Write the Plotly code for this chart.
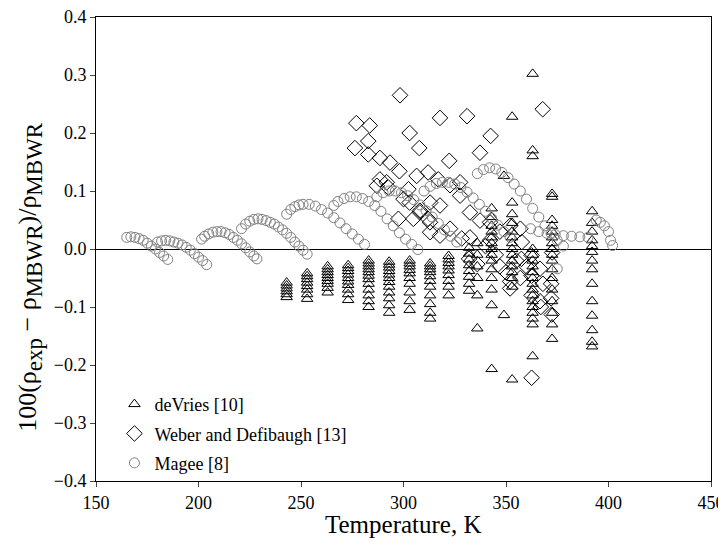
import plotly.graph_objects as go

# ---------------- data ----------------
# deVries [10]
devries_T = (
    [243]*6 + [253]*8 + [263]*9 + [273]*10 + [283]*12 + [293]*12 + [303]*10 + [313]*11 +
    [322]*9 + [332]*8 + [336]*6 + [343]*14 + [349]*2 + [353]*15 + [363]*18 + [372.5]*17 + [392]*14
)
devries_V = (
    [-0.058, -0.063, -0.068, -0.073, -0.078, -0.083] +
    [-0.042, -0.047, -0.052, -0.058, -0.064, -0.070, -0.078, -0.086] +
    [-0.030, -0.035, -0.040, -0.045, -0.050, -0.055, -0.060, -0.067, -0.075] +
    [-0.028, -0.033, -0.038, -0.044, -0.050, -0.056, -0.062, -0.070, -0.078, -0.088] +
    [-0.020, -0.025, -0.030, -0.035, -0.040, -0.046, -0.052, -0.060, -0.070, -0.080, -0.090, -0.100] +
    [-0.022, -0.027, -0.032, -0.038, -0.044, -0.050, -0.057, -0.065, -0.075, -0.085, -0.097, -0.110] +
    [-0.020, -0.025, -0.030, -0.036, -0.042, -0.050, -0.060, -0.075, -0.090, -0.105] +
    [-0.025, -0.030, -0.035, -0.040, -0.047, -0.055, -0.065, -0.080, -0.095, -0.110, -0.120] +
    [-0.012, -0.018, -0.024, -0.030, -0.037, -0.045, -0.055, -0.065, -0.080] +
    [0.002, -0.008, -0.018, -0.028, -0.038, -0.048, -0.060, -0.072] +
    [0.010, -0.010, -0.030, -0.050, -0.080, -0.137] +
    [0.070, 0.055, 0.040, 0.030, 0.020, 0.010, 0.000, -0.010, -0.020, -0.035, -0.050, -0.070, -0.097, -0.207] +
    [0.126, -0.114] +
    [0.228, 0.080, 0.060, 0.045, 0.030, 0.020, 0.010, 0.000, -0.010, -0.020, -0.030, -0.040, -0.050, -0.065, -0.225] +
    [0.302, 0.170, 0.160, 0.000, -0.010, -0.020, -0.030, -0.040, -0.050, -0.060, -0.070, -0.080, -0.090, -0.100, -0.110, -0.120, -0.130, -0.185] +
    [0.095, 0.090, 0.050, 0.040, 0.030, 0.020, 0.010, 0.000, -0.010, -0.020, -0.035, -0.050, -0.070, -0.090, -0.110, -0.130, -0.155] +
    [0.065, 0.045, 0.030, 0.015, 0.005, -0.005, -0.020, -0.035, -0.060, -0.090, -0.115, -0.140, -0.160, -0.168]
)

# Weber and Defibaugh [13]
weber_T = [277, 283.5, 276.3, 282.8, 282.8, 288.5, 293.4, 298, 298.3, 303, 307.7, 317.8,
           288.5, 291.8, 287, 292.6, 302.4, 306.4, 312, 317, 300, 303, 308, 313, 317.8,
           297.5, 304.8, 312, 313, 317.8, 331, 367.9, 342.5, 337.3, 322.3, 327.6, 322.7,
           327.6, 312.9, 308, 332.4, 337.3, 342.2, 322.7, 328.4, 332.4, 342.2, 357.7,
           362.5, 357.5, 366.6, 372.5, 352, 352, 362.5, 366.6, 372.3, 362.5, 362.5,
           336, 332, 347, 352, 357, 347, 340, 345, 350, 355, 360, 368, 372, 372, 367, 357]
weber_V = [0.217, 0.213, 0.174, 0.186, 0.163, 0.157, 0.149, 0.134, 0.265, 0.200, 0.174, 0.226,
           0.120, 0.115, 0.109, 0.106, 0.103, 0.126, 0.132, 0.120, 0.086, 0.080, 0.066, 0.080, 0.075,
           0.052, 0.052, 0.052, 0.029, 0.023, 0.229, 0.241, 0.195, 0.166, 0.152, 0.115, 0.110,
           0.092, 0.046, 0.063, 0.063, 0.049, 0.046, 0.035, 0.018, 0.020, 0.015, 0.012,
           -0.011, -0.017, -0.034, -0.006, -0.056, -0.068, -0.046, -0.090, -0.113, -0.222, -0.080,
           -0.026, -0.017, 0.030, 0.040, 0.035, -0.030, 0.005, -0.010, -0.040, -0.020, -0.030,
           -0.060, -0.060, -0.085, -0.100, -0.050]

# Magee [8]
magee_T = [165, 167, 169, 171, 173, 175, 177, 179, 181, 183, 185,
           180, 182, 184, 186, 188, 190, 192, 194, 196, 198, 200, 202, 204,
           201.5, 203, 205, 207, 209, 211, 213, 215, 217, 219, 221, 223, 225, 227, 228.5,
           221, 223, 225, 227, 229, 231, 233, 235, 237, 239, 241, 243, 245, 247, 249, 251, 253,
           243, 245, 247, 249, 251, 254, 257, 260, 263, 266, 269, 272, 275, 278, 281,
           266, 268, 271, 274, 277, 280, 283, 286, 289, 292, 295, 298, 301, 304, 307,
           287, 290, 293, 296, 299, 302, 305, 308, 311, 314, 317, 320, 323, 326,
           310, 313, 316, 319, 322, 325, 328, 331, 334, 337, 340, 343, 346, 349, 352,
           336, 339, 342, 345, 348, 351, 354, 357, 360, 363, 366, 369, 372, 375, 378,
           362, 366, 370, 374, 378, 382, 386, 390, 375,
           394, 396, 398, 400, 401, 402]
magee_V = [0.020, 0.021, 0.020, 0.018, 0.015, 0.010, 0.005, 0.000, -0.006, -0.012, -0.018,
           0.012, 0.014, 0.015, 0.014, 0.012, 0.010, 0.007, 0.003, -0.002, -0.008, -0.014, -0.020, -0.027,
           0.017, 0.022, 0.026, 0.029, 0.030, 0.030, 0.028, 0.025, 0.020, 0.015, 0.009, 0.002, -0.005, -0.012, -0.017,
           0.035, 0.043, 0.048, 0.051, 0.052, 0.051, 0.049, 0.046, 0.043, 0.038, 0.033, 0.027, 0.020, 0.012, 0.005, -0.002, -0.009,
           0.060, 0.068, 0.073, 0.076, 0.077, 0.077, 0.074, 0.068, 0.062, 0.054, 0.045, 0.035, 0.026, 0.017, 0.008,
           0.075, 0.082, 0.087, 0.090, 0.090, 0.087, 0.082, 0.075, 0.065, 0.052, 0.040, 0.028, 0.017, 0.008, -0.001,
           0.090, 0.097, 0.100, 0.100, 0.097, 0.092, 0.085, 0.076, 0.066, 0.055, 0.044, 0.033, 0.022, 0.012,
           0.100, 0.108, 0.113, 0.115, 0.115, 0.112, 0.106, 0.098, 0.088, 0.077, 0.065, 0.053, 0.041, 0.030, 0.020,
           0.130, 0.137, 0.140, 0.138, 0.132, 0.123, 0.112, 0.100, 0.086, 0.070, 0.055, 0.040, 0.027, 0.015, 0.005,
           0.035, 0.030, 0.027, 0.025, 0.023, 0.022, 0.021, 0.020, -0.034,
           0.050, 0.046, 0.040, 0.030, 0.015, 0.006]

x_ticks = [150, 200, 250, 300, 350, 400, 450]
y_ticks = [-0.4, -0.3, -0.2, -0.1, 0.0, 0.1, 0.2, 0.3, 0.4]

FONT = "Liberation Serif"

fig = go.Figure()
fig.add_trace(go.Scatter(
    x=devries_T, y=devries_V, mode="markers", name="deVries [10]", legendgroup="a",
    marker=dict(symbol="triangle-up-open", size=10, color="black", line=dict(width=1, color="black")),
))
fig.add_trace(go.Scatter(
    x=weber_T, y=weber_V, mode="markers", name="Weber and Defibaugh [13]", legendgroup="b",
    marker=dict(symbol="diamond-open", size=12, color="black", line=dict(width=1, color="black")),
))
fig.add_trace(go.Scatter(
    x=magee_T, y=magee_V, mode="markers", name="Magee [8]", legendgroup="c",
    marker=dict(symbol="circle-open", size=10, color="#808080", line=dict(width=1, color="#808080")),
))

ytitle = ("100(ρ<sub><span style='font-size:23px'>exp</span></sub> − "
          "ρ<sub><span style='font-size:23px'>MBWR</span></sub>)/"
          "ρ<sub><span style='font-size:23px'>MBWR</span></sub>")

fig.add_annotation(
    text=ytitle, textangle=-90, xref="paper", yref="paper",
    x=0, xshift=-66, y=0.44, xanchor="center", yanchor="middle",
    showarrow=False, font=dict(family=FONT, size=26, color="black"),
)
fig.add_annotation(
    text="Temperature, K", xref="paper", yref="paper",
    x=0.5, y=0, yshift=-43, xanchor="center", yanchor="middle",
    showarrow=False, font=dict(family=FONT, size=25, color="black"),
)

# the page body adds an 8 px offset, so the figure is sized 8 px smaller
fig.update_layout(
    width=718, height=536,
    margin=dict(l=88, r=15, t=9, b=63),
    paper_bgcolor="white", plot_bgcolor="white",
    font=dict(family=FONT, color="black", size=18),
    showlegend=True,
    legend=dict(x=0.03, y=0.205, xanchor="left", yanchor="top",
                bgcolor="rgba(0,0,0,0)", font=dict(family=FONT, size=18),
                tracegroupgap=3, itemwidth=30),
    xaxis=dict(
        range=[150, 450], tickvals=x_ticks, ticks="outside", ticklen=5,
        showline=True, mirror=True, linecolor="black", linewidth=1,
        showgrid=False, zeroline=False, automargin=False, ticklabeloverflow="allow",
        tickfont=dict(family=FONT, size=18),
    ),
    yaxis=dict(
        range=[-0.4, 0.4], tickvals=y_ticks, tickformat=".1f", ticks="outside", ticklen=5,
        showline=True, mirror=True, linecolor="black", linewidth=1,
        showgrid=False, zeroline=True, zerolinecolor="black", zerolinewidth=1,
        automargin=False, ticklabeloverflow="allow",
        tickfont=dict(family=FONT, size=18),
    ),
)

fig.write_html("out.html")
